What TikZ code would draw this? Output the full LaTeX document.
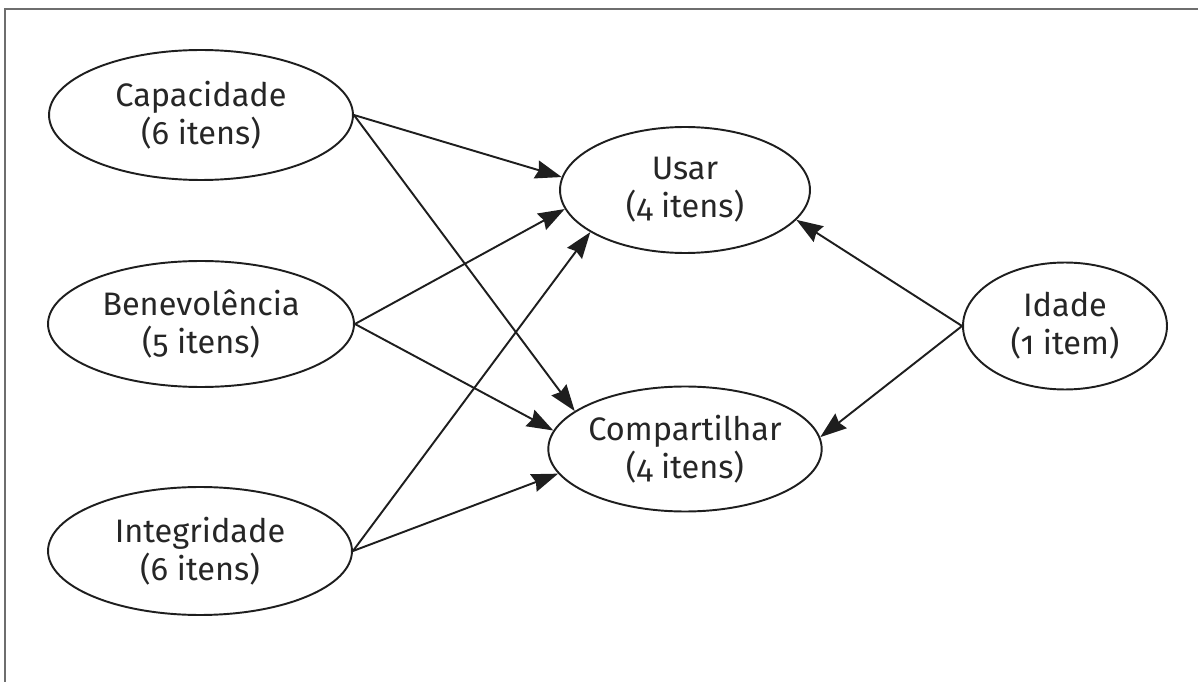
\documentclass[tikz,border=0pt]{standalone}
\usepackage{fontspec}
\setmainfont{Fira Sans}[Numbers=OldStyle]
\usepackage{tikz}
\usetikzlibrary{shapes.geometric, arrows.meta}
\definecolor{lineColor}{HTML}{1E1E1E}
\definecolor{frameColor}{HTML}{6E6E6E}

\begin{document}
\begin{tikzpicture}[x=0.02cm, y=-0.02cm,
    construct/.style={ellipse, draw=lineColor, line width=1.1pt, inner sep=0pt, align=center,
        font=\fontsize{18.5}{21.5}\selectfont, text=black!85},
    path/.style={line width=1.1pt, draw=lineColor, -{Stealth[length=15pt, width=10.5pt, inset=1.5pt]}}]
    \useasboundingbox (0,0) rectangle (1198,682);
    \draw[frameColor, line width=1.6pt] (5,682) -- (5,9) -- (1198,9);

    \node[construct, minimum width=6.08cm, minimum height=2.6cm] (cap) at (201,115) {Capacidade\\(6 itens)};
    \node[construct, minimum width=6.12cm, minimum height=2.52cm] (ben) at (201,324) {Benevolência\\(5 itens)};
    \node[construct, minimum width=6.08cm, minimum height=2.56cm] (int) at (200,551) {Integridade\\(6 itens)};
    \node[construct, minimum width=5cm, minimum height=2.52cm] (usar) at (685,190) {Usar\\(4 itens)};
    \node[construct, minimum width=5cm, minimum height=2.5cm] (comp) at (685,449) {Compartilhar\\(4 itens)};
    \node[construct, minimum width=4.08cm, minimum height=2.54cm] (idade) at (1065,326) {Idade\\(1 item)};

    \draw[path] (cap.east) -- (usar.174);
    \draw[path] (cap.east) -- (comp.161);
    \draw[path] (ben.east) -- (usar.189);
    \draw[path] (ben.east) -- (comp.172);
    \draw[path] (int.east) -- (usar.204);
    \draw[path] (int.east) -- (comp.191);
    \draw[path] (idade.west) -- (usar.345);
    \draw[path] (idade.west) -- (comp.5);
\end{tikzpicture}
\end{document}
